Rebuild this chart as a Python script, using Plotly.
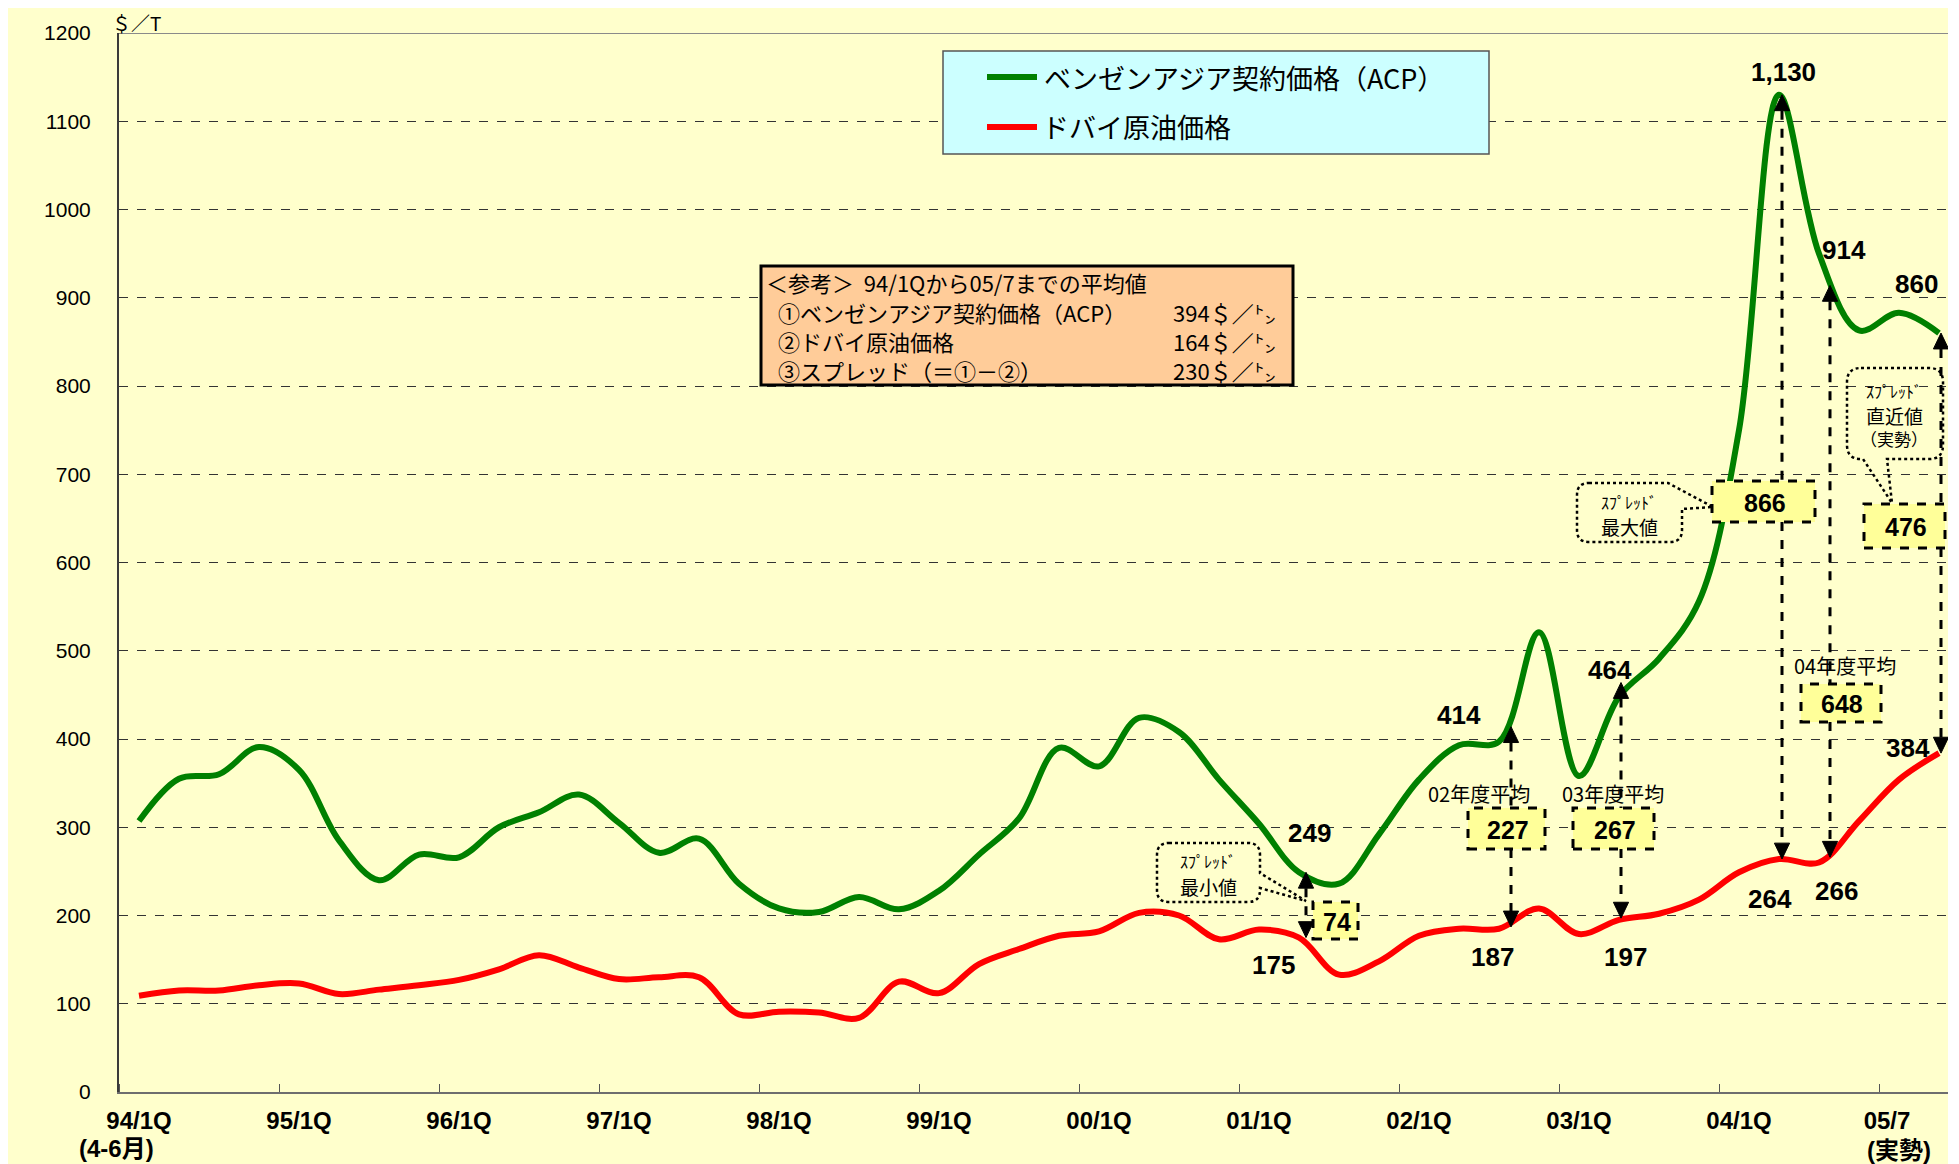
import plotly.graph_objects as go

# ---------------- data ----------------
quarters = [f"{y:02d}/{q}Q" for y in list(range(94, 100)) + list(range(0, 5)) for q in range(1, 5)] + ["05/1Q", "05/7"]
acp = [307, 355, 360, 391, 365, 285, 240, 269, 266, 300, 317, 337, 305, 271, 287, 236,
       208, 204, 221, 207, 228, 269, 310, 390, 369, 424, 408, 354, 304, 249, 236, 292,
       354, 393, 397, 521, 358, 448, 491, 556, 750, 1130, 950, 863, 883, 860]
dubai = [109, 115, 115, 121, 123, 111, 116, 121, 127, 139, 155, 141, 128, 130, 130, 88,
         91, 90, 84, 125, 112, 145, 162, 177, 182, 203, 200, 173, 184, 175, 133, 148,
         177, 185, 185, 208, 179, 195, 202, 218, 249, 264, 260, 307, 354, 384]
xpos = list(range(len(acp)))

tick_pos = [0, 4, 8, 12, 16, 20, 24, 28, 32, 36, 40, 43.7]
tick_text = ["94/1Q", "95/1Q", "96/1Q", "97/1Q", "98/1Q", "99/1Q", "00/1Q", "01/1Q",
             "02/1Q", "03/1Q", "04/1Q", "05/7"]
y_ticks = list(range(0, 1201, 100))

fy_names = ["02年度平均", "03年度平均", "04年度平均"]
fy_acp = [414, 464, 914]
fy_dubai = [187, 197, 266]

avg_acp, avg_dubai = 394, 164
i_min, i_max, i_last = 29, 41, 45

# ---------------- geometry helpers (page pixel coords) ----------------
OFF = 8                      # page body margin
FW, FH = 1940, 1156          # figure size
L, R, T, B = 119, 1948, 33, 1092
JP = "Noto Sans CJK JP"
NUM = "Liberation Sans, Arial, sans-serif"
XT = "Liberation Sans Narrow, Liberation Sans, Noto Sans CJK JP"


def P(x, y):
    return (x - L) / (R - L), (B - y) / (B - T)


def qx(x):
    return (x - 139) / 40.0


def vy(y):
    return (B - y) / ((B - T) / 1200.0)


shapes = []
annotations = []


def txt(x, y, s, size, bold=False, anchor="center", family=JP):
    xp, yp = P(x, y)
    annotations.append(dict(x=xp, y=yp, xref="paper", yref="paper", text=s, showarrow=False,
                            xanchor=anchor, yanchor="middle",
                            font=dict(size=size, family=family, color="black",
                                      weight="bold" if bold else "normal")))


def rect(x0, y0, x1, y1, fill, color, width, dash="solid", layer="above"):
    a0, b1 = P(x0, y0)
    a1, b0 = P(x1, y1)
    shapes.append(dict(type="rect", xref="paper", yref="paper", x0=a0, y0=b0, x1=a1, y1=b1,
                       fillcolor=fill, line=dict(color=color, width=width, dash=dash), layer=layer))


def pline(x0, y0, x1, y1, color, width, dash="solid", layer="above"):
    a0, b0 = P(x0, y0)
    a1, b1 = P(x1, y1)
    shapes.append(dict(type="line", xref="paper", yref="paper", x0=a0, y0=b0, x1=a1, y1=b1,
                       line=dict(color=color, width=width, dash=dash), layer=layer))


def ppath(points, dash="dot", width=2.5, close=True):
    s = ""
    for cmd, pts in points:
        coords = " ".join(f"{P(x, y)[0]:.5f},{P(x, y)[1]:.5f}" for x, y in pts)
        s += f"{cmd} {coords} "
    if close:
        s += "Z"
    shapes.append(dict(type="path", xref="paper", yref="paper", path=s,
                       fillcolor="rgba(0,0,0,0)", line=dict(color="black", width=width, dash=dash),
                       layer="above"))


# top border line at 1200
shapes.append(dict(type="line", xref="paper", yref="y", x0=0, x1=1, y0=1200, y1=1200,
                   line=dict(color="#8a8a8a", width=2), layer="above"))

# ---------------- arrows (dashed vertical) ----------------
HW, HH = 0.19, 18.0
arrow_lines = []
arrow_heads = []


def vseg(q, v0, v1):
    arrow_lines.append(dict(type="line", xref="x", yref="y", x0=q, x1=q, y0=v0, y1=v1,
                            line=dict(color="black", width=3, dash="dash"), layer="above"))


def head(q, v, up=True):
    b = v - HH if up else v + HH
    arrow_heads.append(dict(type="path", xref="x", yref="y",
                            path=f"M {q},{v} L {q - HW},{b} L {q + HW},{b} Z",
                            fillcolor="black", line=dict(color="black", width=1), layer="above"))


def spread_arrow(xpix, top, bottom, box_top_px=None, box_bot_px=None):
    q = qx(xpix)
    if box_top_px is None:
        vseg(q, top - HH, bottom + HH)
    else:
        vseg(q, top - HH, vy(box_top_px))
        vseg(q, vy(box_bot_px), bottom + HH)
    head(q, top, True)
    head(q, bottom, False)


spread_arrow(1306, acp[i_min], dubai[i_min])
spread_arrow(1511, fy_acp[0], fy_dubai[0], 808, 849)
spread_arrow(1621, fy_acp[1], fy_dubai[1], 808, 849)
spread_arrow(1782, acp[i_max], dubai[i_max], 481, 522)
spread_arrow(1830, fy_acp[2], fy_dubai[2], 684, 722)
spread_arrow(1941, acp[i_last], dubai[i_last], 504, 548)
shapes.extend(arrow_lines)

# ---------------- callout boxes ----------------
BOXF = "#FFFF99"
boxes = [
    (1313, 902, 1358, 939, acp[i_min] - dubai[i_min]),
    (1468, 808, 1545, 849, fy_acp[0] - fy_dubai[0]),
    (1573, 808, 1654, 849, fy_acp[1] - fy_dubai[1]),
    (1712, 481, 1815, 522, acp[i_max] - dubai[i_max]),
    (1801, 684, 1881, 722, fy_acp[2] - fy_dubai[2]),
    (1864, 504, 1945, 548, acp[i_last] - dubai[i_last]),
]
for x0, y0, x1, y1, val in boxes:
    rect(x0, y0, x1, y1, BOXF, "black", 3, dash="dash")
    txt((x0 + x1) / 2 + 1, (y0 + y1) / 2 + 1, f"{val}", 25, bold=True, family=NUM)
shapes.extend(arrow_heads)

# FY captions
txt(1479, 793, fy_names[0], 20)
txt(1613, 793, fy_names[1], 20)
txt(1845, 665, fy_names[2], 20)

# value labels
vals = [
    (f"{acp[i_min]}", 1309, 833), (f"{dubai[i_min]}", 1273, 965),
    (f"{fy_acp[0]}", 1459, 715), (f"{fy_dubai[0]}", 1492, 957),
    (f"{fy_acp[1]}", 1610, 670), (f"{fy_dubai[1]}", 1625, 957),
    (f"{acp[i_max]:,}", 1783, 72), (f"{dubai[i_max]}", 1770, 899),
    (f"{fy_acp[2]}", 1844, 250), (f"{fy_dubai[2]}", 1836, 891),
    (f"{acp[i_last]}", 1916, 284), (f"{dubai[i_last]}", 1908, 748),
]
for s, x, y in vals:
    txt(x, y, s, 26, bold=True, family=NUM)

# ---------------- speech bubbles ----------------
r = 12
x0, y0, x1, y1 = 1157, 843, 1260, 902
ppath([("M", [(x0 + r, y0)]), ("L", [(x1 - r, y0)]), ("Q", [(x1, y0), (x1, y0 + r)]),
       ("L", [(x1, 873)]), ("L", [(1306, 901)]), ("L", [(x1, 888)]),
       ("L", [(x1, y1 - r)]), ("Q", [(x1, y1), (x1 - r, y1)]),
       ("L", [(x0 + r, y1)]), ("Q", [(x0, y1), (x0, y1 - r)]),
       ("L", [(x0, y0 + r)]), ("Q", [(x0, y0), (x0 + r, y0)])])
txt(1208, 861, "ｽﾌﾟﾚｯﾄﾞ", 16)
txt(1208, 886, "最小値", 19)

x0, y0, x1, y1 = 1577, 483, 1682, 542
ppath([("M", [(x0 + r, y0)]), ("L", [(1668, y0)]), ("L", [(1713, 507)]),
       ("L", [(x1, 509)]), ("L", [(x1, y1 - r)]), ("Q", [(x1, y1), (x1 - r, y1)]),
       ("L", [(x0 + r, y1)]), ("Q", [(x0, y1), (x0, y1 - r)]),
       ("L", [(x0, y0 + r)]), ("Q", [(x0, y0), (x0 + r, y0)])])
txt(1629, 502, "ｽﾌﾟﾚｯﾄﾞ", 16)
txt(1629, 526, "最大値", 19)

x0, y0, x1, y1 = 1847, 368, 1943, 459
r2 = 14
ppath([("M", [(x0 + r2, y0)]), ("L", [(x1 - r2, y0)]), ("Q", [(x1, y0), (x1, y0 + r2)]),
       ("L", [(x1, y1 - r2)]), ("Q", [(x1, y1), (x1 - r2, y1)]),
       ("L", [(1887, y1)]), ("L", [(1892, 503)]), ("L", [(1863, y1)]),
       ("L", [(x0 + r2, y1)]), ("Q", [(x0, y1), (x0, y1 - r2)]),
       ("L", [(x0, y0 + r2)]), ("Q", [(x0, y0), (x0 + r2, y0)])])
txt(1894, 391, "ｽﾌﾟﾚｯﾄﾞ", 16)
txt(1894, 415, "直近値", 19)
txt(1894, 438, "（実勢）", 17)

# ---------------- legend (drawn) ----------------
rect(943, 51, 1489, 154, "#CCFFFF", "#555555", 1.5)
pline(987, 77, 1037, 77, "#008000", 6)
pline(987, 127, 1037, 127, "#FF0000", 6)
txt(1042, 77, "ベンゼンアジア契約価格（ACP）", 27, anchor="left")
txt(1040, 127, "ドバイ原油価格", 27, anchor="left")

# ---------------- reference box ----------------
rect(761, 266, 1293, 385, "#FFCC99", "black", 3)
txt(764, 282, "＜参考＞  94/1Qから05/7までの平均値", 22, anchor="left")
txt(776, 312, "①ベンゼンアジア契約価格（ACP）", 22, anchor="left")
txt(776, 341, "②ドバイ原油価格", 22, anchor="left")
txt(776, 370, "③スプレッド（＝①－②）", 22, anchor="left")
txt(1171, 312, f"{avg_acp}＄／㌧", 22, anchor="left")
txt(1171, 341, f"{avg_dubai}＄／㌧", 22, anchor="left")
txt(1171, 370, f"{avg_acp - avg_dubai}＄／㌧", 22, anchor="left")

# unit label and second-line tick labels
txt(110, 23, "＄／T", 19, anchor="left")
txt(116, 1148, "(4-6月)", 24, bold=True, family=XT)
txt(1899, 1150, "(実勢)", 24, bold=True, family=XT)

# ---------------- traces ----------------
fig = go.Figure()
fig.add_trace(go.Scatter(x=xpos, y=acp, mode="lines", name="ベンゼンアジア契約価格（ACP）",
                         line=dict(color="#008000", width=6, shape="spline", smoothing=1.0),
                         text=quarters, showlegend=False))
fig.add_trace(go.Scatter(x=xpos, y=dubai, mode="lines", name="ドバイ原油価格",
                         line=dict(color="#FF0000", width=6, shape="spline", smoothing=1.0),
                         text=quarters, showlegend=False))

fig.update_layout(
    width=FW, height=FH, autosize=False,
    margin=dict(l=L - OFF, r=(OFF + FW) - R, t=T - OFF, b=(OFF + FH) - B, pad=0),
    paper_bgcolor="#FFFFCC", plot_bgcolor="#FFFFCC",
    shapes=shapes, annotations=annotations,
    xaxis=dict(range=[-0.5, 45.225], tickmode="array", tickvals=tick_pos, ticktext=tick_text,
               ticks="", showgrid=False, zeroline=False, showline=True, linecolor="#6e6e6e",
               linewidth=2, ticklabelstandoff=6,
               tickfont=dict(size=24, family=XT, color="black", weight="bold"),
               minor=dict(tickmode="linear", tick0=3.5, dtick=4, ticks="inside", ticklen=8,
                          tickcolor="#555555", tickwidth=1, showgrid=False)),
    yaxis=dict(range=[0, 1200], tickmode="array", tickvals=y_ticks, ticks="",
               showgrid=True, gridcolor="#333333", gridwidth=1, griddash="dash",
               zeroline=False, showline=True, linecolor="#3a3a3a", linewidth=2,
               ticklabelstandoff=22,
               tickfont=dict(size=21, family=NUM, color="black")),
)

fig.write_html("out.html")
